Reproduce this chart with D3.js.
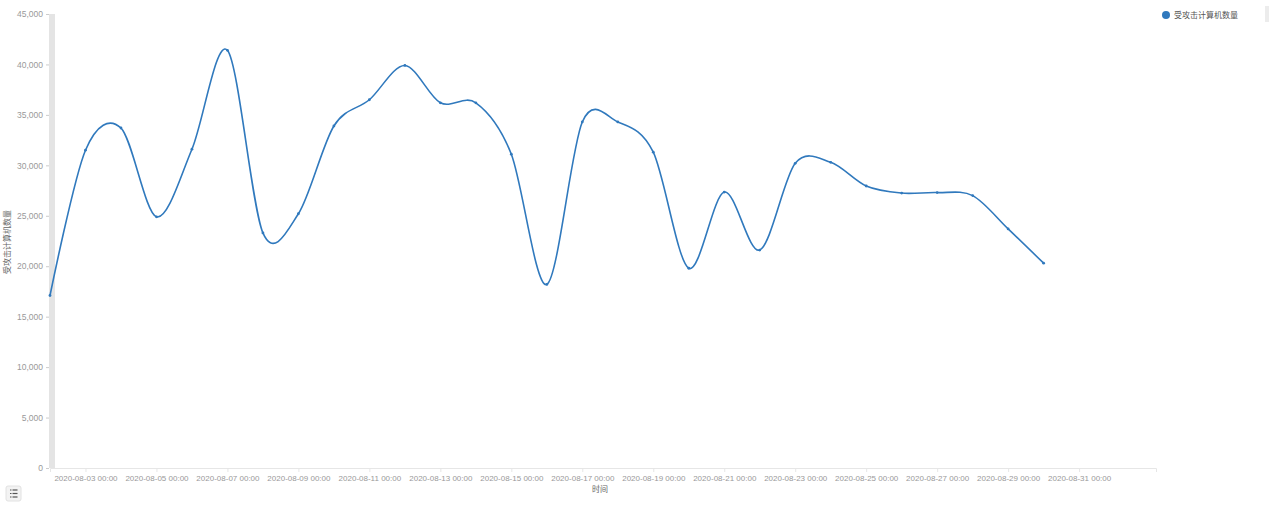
<!DOCTYPE html>
<html>
<head>
<meta charset="utf-8">
<script src="https://cdn.jsdelivr.net/npm/d3@7"></script>
<style>
  body { margin: 0; background: #fff; }
  svg { display: block; font-family: Inter, "Noto Sans CJK SC", sans-serif; }
</style>
</head>
<body>
<div id="chart"></div>
<script>
// daily counts, 2020-08-02 .. 2020-08-30
var days = ["2020-08-02","2020-08-03","2020-08-04","2020-08-05","2020-08-06","2020-08-07",
  "2020-08-08","2020-08-09","2020-08-10","2020-08-11","2020-08-12","2020-08-13","2020-08-14",
  "2020-08-15","2020-08-16","2020-08-17","2020-08-18","2020-08-19","2020-08-20","2020-08-21",
  "2020-08-22","2020-08-23","2020-08-24","2020-08-25","2020-08-26","2020-08-27","2020-08-28",
  "2020-08-29","2020-08-30"];
var counts = [17100, 31500, 33700, 24900, 31600, 41400, 23300, 25200, 33900, 36500, 39900,
  36200, 36200, 31100, 18200, 34300, 34300, 31300, 19800, 27350, 21600, 30200, 30300,
  27950, 27250, 27300, 27000, 23700, 20300];
var yTicks = [0, 5000, 10000, 15000, 20000, 25000, 30000, 35000, 40000, 45000];
var xTickDays = ["2020-08-03","2020-08-05","2020-08-07","2020-08-09","2020-08-11","2020-08-13",
  "2020-08-15","2020-08-17","2020-08-19","2020-08-21","2020-08-23","2020-08-25","2020-08-27",
  "2020-08-29","2020-08-31"];
var seriesName = "受攻击计算机数量";
var xTitle = "时间";

var W = 1269, H = 506;
var margin = {top: 14, right: 113, bottom: 38, left: 50};
var width = W - margin.left - margin.right,
    height = H - margin.top - margin.bottom;
var color = "#3079bd";

var parse = d3.timeParse("%Y-%m-%d");
var data = days.map(function(d, i) { return {date: parse(d), count: counts[i]}; });

var svg = d3.select("#chart").append("svg")
  .attr("width", W).attr("height", H);
var g = svg.append("g")
  .attr("transform", "translate(" + margin.left + "," + margin.top + ")");

var x = d3.scaleTime()
  .domain([parse("2020-08-02"), new Date(2020, 8, 2, 4)])
  .range([0, width]);
var y = d3.scaleLinear()
  .domain([0, 45000])
  .range([height, 0]);

// gray band along the y axis
g.append("rect")
  .attr("x", -1).attr("y", 0)
  .attr("width", 6).attr("height", height)
  .attr("fill", "#e4e4e4");

// Y axis
var yAxis = g.append("g")
  .call(d3.axisLeft(y).tickValues(yTicks).tickSize(3).tickPadding(4)
    .tickFormat(d3.format(",")));
yAxis.select(".domain").remove();
yAxis.selectAll("line").attr("stroke", "#ccc").attr("transform", "translate(-1,0)");
yAxis.selectAll("text").attr("fill", "#999").style("font-size", "8.5px");

// X axis
var xAxis = g.append("g")
  .attr("transform", "translate(0," + height + ")")
  .call(d3.axisBottom(x).tickValues(xTickDays.map(parse)).tickSize(4).tickPadding(3)
    .tickFormat(d3.timeFormat("%Y-%m-%d %H:%M")));
xAxis.select(".domain").attr("stroke", "#e6e6e6");
xAxis.selectAll("line").attr("stroke", "#e6e6e6");
xAxis.selectAll("text").attr("fill", "#999").style("font-size", "8px");

// axis titles
g.append("text")
  .attr("x", x(new Date(2020, 7, 17, 12)))
  .attr("y", height + 24)
  .attr("text-anchor", "middle")
  .attr("fill", "#666")
  .style("font-size", "8px")
  .text(xTitle);

svg.append("text")
  .attr("transform", "translate(10," + (margin.top + 228) + ")rotate(-90)")
  .attr("text-anchor", "middle")
  .attr("fill", "#666")
  .style("font-size", "8px")
  .text(seriesName);

// line
g.append("path")
  .datum(data)
  .attr("fill", "none")
  .attr("stroke", color)
  .attr("stroke-width", 1.6)
  .attr("d", d3.line()
    .curve(d3.curveCardinal.tension(0.05))
    .x(function(d) { return x(d.date); })
    .y(function(d) { return y(d.count); }));

// small point markers
g.selectAll(".pt")
  .data(data)
  .enter()
  .append("circle")
  .attr("class", "pt")
  .attr("cx", function(d) { return x(d.date); })
  .attr("cy", function(d) { return y(d.count); })
  .attr("r", 1.4)
  .attr("fill", color);

// legend
var legend = svg.append("g").attr("transform", "translate(1166,15)");
legend.append("circle").attr("r", 4).attr("fill", color);
legend.append("text")
  .attr("x", 8).attr("dy", "0.35em")
  .attr("fill", "#555")
  .style("font-size", "8px")
  .text(seriesName);

// right edge scroll stub
svg.append("rect")
  .attr("x", 1265).attr("y", 6).attr("width", 4).attr("height", 16)
  .attr("fill", "#ececec");

// list icon bottom-left
var icon = svg.append("g").attr("transform", "translate(6,486)");
icon.append("rect")
  .attr("width", 15).attr("height", 15).attr("rx", 2)
  .attr("fill", "#f3f3f3").attr("stroke", "#e2e2e2");
[4, 7.5, 11].forEach(function(yy) {
  icon.append("line").attr("x1", 4).attr("x2", 5.5).attr("y1", yy).attr("y2", yy)
    .attr("stroke", "#555").attr("stroke-width", 1.2);
  icon.append("line").attr("x1", 6.5).attr("x2", 11.5).attr("y1", yy).attr("y2", yy)
    .attr("stroke", "#555").attr("stroke-width", 1.2);
});
</script>
</body>
</html>
